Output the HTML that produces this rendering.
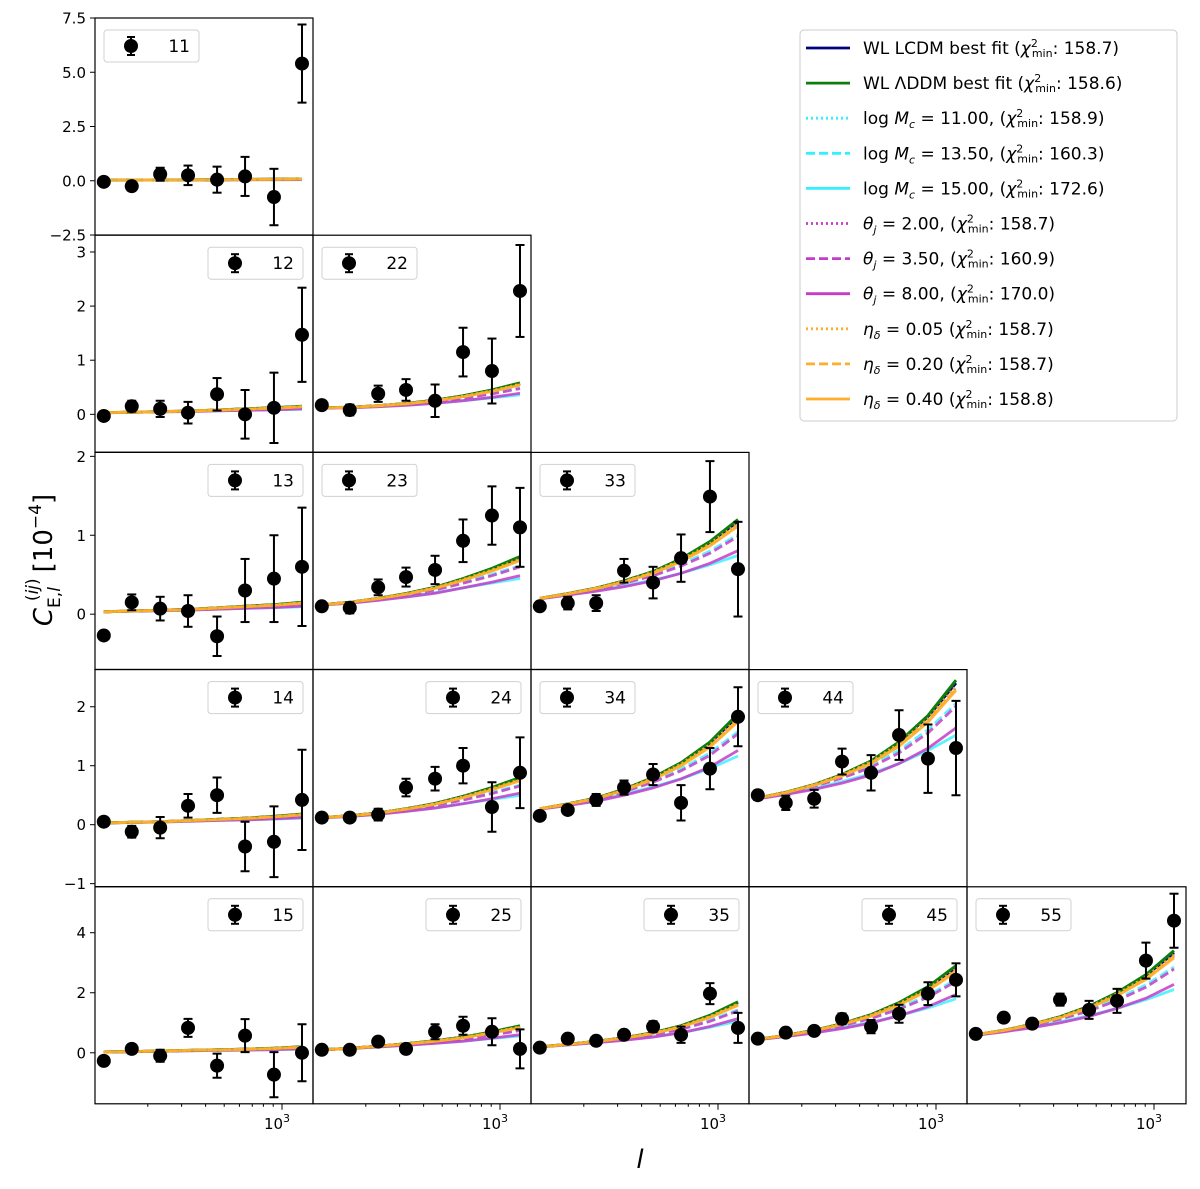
<!DOCTYPE html>
<html><head><meta charset="utf-8"><style>
html,body{margin:0;padding:0;background:#fff;}
svg{display:block;font-family:"DejaVu Sans","Liberation Sans",sans-serif;}
</style></head><body>
<svg id="chart" width="1200" height="1189" viewBox="0 0 1200 1189" xmlns="http://www.w3.org/2000/svg">
<rect width="1200" height="1189" fill="#fff"/>
<g id="plots"></g>
<text transform="translate(52,560) rotate(-90)" text-anchor="middle" font-size="26"><tspan font-style="italic">C</tspan><tspan font-size="17" dy="8">E,</tspan><tspan font-size="17" font-style="italic">l</tspan><tspan font-size="17" dy="-22" dx="-14">(</tspan><tspan font-size="17" font-style="italic">ij</tspan><tspan font-size="17">)</tspan><tspan dy="14" dx="6">[10</tspan><tspan font-size="17" dy="-11">−4</tspan><tspan dy="11">]</tspan></text>
<text x="640" y="1168" text-anchor="middle" font-size="26" font-style="italic">l</text>
<g>
<rect x="800" y="30" width="377" height="391" rx="4" fill="#fff" stroke="#ccc" stroke-width="1"/>
</g>
<g id="legend-items"></g>
</svg>
<script>
// ---- data ----
const ells = [118, 165, 232, 324, 459, 642, 908, 1271];
const panelIds = ["11","12","22","13","23","33","14","24","34","44","15","25","35","45","55"];
const obs11=[-0.05,-0.25,0.3,0.25,0.05,0.2,-0.75,5.4];
const err11=[0.1,0.1,0.3,0.45,0.6,0.9,1.3,1.8];
const mod11=[0.03,0.03,0.04,0.04,0.05,0.06,0.07,0.08];
const obs12=[-0.03,0.15,0.1,0.03,0.37,0.0,0.12,1.47];
const err12=[0.05,0.1,0.15,0.2,0.3,0.45,0.65,0.87];
const mod12=[0.03,0.04,0.05,0.06,0.08,0.1,0.12,0.15];
const obs22=[0.17,0.08,0.38,0.45,0.25,1.15,0.8,2.28];
const err22=[0.05,0.1,0.15,0.2,0.3,0.45,0.6,0.85];
const mod22=[0.12,0.13,0.16,0.2,0.26,0.34,0.45,0.58];
const obs13=[-0.27,0.15,0.07,0.04,-0.28,0.3,0.45,0.6];
const err13=[0.05,0.1,0.15,0.2,0.25,0.4,0.55,0.75];
const mod13=[0.03,0.04,0.05,0.06,0.08,0.1,0.12,0.15];
const obs23=[0.1,0.08,0.34,0.47,0.56,0.93,1.25,1.1];
const err23=[0.05,0.07,0.1,0.12,0.18,0.27,0.37,0.5];
const mod23=[0.12,0.15,0.2,0.26,0.34,0.45,0.58,0.73];
const obs33=[0.1,0.14,0.14,0.55,0.4,0.71,1.49,0.57];
const err33=[0.05,0.08,0.1,0.15,0.2,0.3,0.45,0.6];
const mod33=[0.2,0.26,0.33,0.42,0.54,0.7,0.92,1.2];
const obs14=[0.05,-0.12,-0.05,0.32,0.5,-0.37,-0.29,0.42];
const err14=[0.07,0.1,0.18,0.2,0.3,0.42,0.6,0.85];
const mod14=[0.03,0.04,0.05,0.07,0.09,0.11,0.14,0.18];
const obs24=[0.12,0.12,0.17,0.63,0.78,1.0,0.3,0.88];
const err24=[0.05,0.07,0.1,0.15,0.2,0.3,0.42,0.6];
const mod24=[0.12,0.15,0.2,0.27,0.36,0.48,0.63,0.8];
const obs34=[0.15,0.25,0.42,0.63,0.85,0.37,0.95,1.83];
const err34=[0.05,0.06,0.1,0.12,0.18,0.3,0.35,0.5];
const mod34=[0.27,0.35,0.45,0.6,0.8,1.05,1.4,1.88];
const obs44=[0.5,0.37,0.44,1.07,0.88,1.52,1.12,1.3];
const err44=[0.08,0.12,0.15,0.22,0.3,0.42,0.58,0.8];
const mod44=[0.45,0.55,0.68,0.85,1.08,1.4,1.85,2.45];
const obs15=[-0.27,0.13,-0.1,0.83,-0.43,0.57,-0.73,0.0];
const err15=[0.1,0.15,0.2,0.3,0.4,0.55,0.75,0.95];
const mod15=[0.03,0.04,0.06,0.08,0.1,0.12,0.15,0.2];
const obs25=[0.1,0.1,0.37,0.13,0.7,0.9,0.7,0.13];
const err25=[0.05,0.07,0.1,0.15,0.25,0.3,0.45,0.65];
const mod25=[0.1,0.15,0.22,0.3,0.4,0.52,0.7,0.9];
const obs35=[0.17,0.47,0.4,0.6,0.87,0.6,1.97,0.83];
const err35=[0.06,0.08,0.1,0.12,0.18,0.27,0.35,0.5];
const mod35=[0.2,0.28,0.38,0.5,0.67,0.9,1.25,1.7];
const obs45=[0.47,0.67,0.73,1.13,0.87,1.3,1.97,2.43];
const err45=[0.08,0.1,0.12,0.18,0.22,0.3,0.38,0.55];
const mod45=[0.45,0.58,0.75,0.97,1.27,1.67,2.2,2.9];
const obs55=[0.63,1.17,0.97,1.77,1.43,1.73,3.07,4.4];
const err55=[0.08,0.1,0.15,0.2,0.3,0.4,0.6,0.9];
const mod55=[0.6,0.75,0.95,1.2,1.55,2.0,2.6,3.4];
const obsData=[obs11,obs12,obs22,obs13,obs23,obs33,obs14,obs24,obs34,obs44,obs15,obs25,obs35,obs45,obs55];
const errData=[err11,err12,err22,err13,err23,err33,err14,err24,err34,err44,err15,err25,err35,err45,err55];
const modData=[mod11,mod12,mod22,mod13,mod23,mod33,mod14,mod24,mod34,mod44,mod15,mod25,mod35,mod45,mod55];
// model ratios relative to the ΛDDM best fit
const ratioLcdm=[1,1,1,1,1,1,0.99,0.98];
const ratioMc11=[1,1,1,0.99,0.99,0.98,0.97,0.96];
const ratioMc135=[1,0.99,0.98,0.96,0.93,0.9,0.87,0.84];
const ratioMc15=[0.98,0.95,0.91,0.86,0.8,0.74,0.68,0.62];
const ratioTh2=[1,1,0.99,0.99,0.98,0.97,0.96,0.95];
const ratioTh35=[0.99,0.98,0.96,0.93,0.9,0.87,0.84,0.82];
const ratioTh8=[0.97,0.93,0.88,0.83,0.78,0.74,0.7,0.67];
const ratioEta005=[1,1,1,0.99,0.99,0.98,0.97,0.96];
const ratioEta02=[1,0.99,0.99,0.98,0.97,0.96,0.95,0.94];
const ratioEta04=[1,0.99,0.98,0.97,0.96,0.95,0.94,0.93];
const rowYMin=[-2.5,-0.70,-0.70,-1.05,-1.7];
const rowYMax=[7.5,3.31,2.05,2.63,5.53];
const rowTicks=[[-2.5,0,2.5,5,7.5],[0,1,2,3],[0,1,2],[-1,0,1,2],[0,2,4]];
const rowTickLabels=[["−2.5","0.0","2.5","5.0","7.5"],["0","1","2","3"],["0","1","2"],["−1","0","1","2"],["0","2","4"]];
const legendLeft=[true,false,true,false,true,true,false,false,true,true,false,false,false,false,true];

// ---- drawing ----
const NS="http://www.w3.org/2000/svg";
const plots=document.getElementById('plots');
function mk(tag,attrs,parent){const e=document.createElementNS(NS,tag);for(const k in attrs)e.setAttribute(k,attrs[k]);(parent||plots).appendChild(e);return e;}
const PPD=192, W=218, H=217;
function colLeft(c){return 95+c*218;}
function rowTop(r){return 18+r*217.2;}
function xScale(c,ell){return colLeft(c)+187+(Math.log10(ell)-3)*PPD;}
function yScale(r,v){return rowTop(r)+H-(v-rowYMin[r])/(rowYMax[r]-rowYMin[r])*H;}

const lineStyles=[
 {ratio:ratioMc11,color:"#33f0ff",dash:"2,3",w:2.8,op:0.8},
 {ratio:ratioMc135,color:"#33f0ff",dash:"9,4",w:2.8,op:0.8},
 {ratio:ratioMc15,color:"#33f0ff",dash:"",w:2.8,op:0.8},
 {ratio:ratioTh2,color:"#c43cc8",dash:"2,3",w:2.8,op:0.85},
 {ratio:ratioTh35,color:"#c43cc8",dash:"9,4",w:2.8,op:0.85},
 {ratio:ratioTh8,color:"#c43cc8",dash:"",w:2.8,op:0.85},
 {ratio:ratioLcdm,color:"#000080",dash:"",w:2.8,op:1},
 {ratio:null,color:"#0a7d0a",dash:"",w:3,op:1},
 {ratio:ratioEta005,color:"#ffae2a",dash:"2,3",w:2.8,op:0.9},
 {ratio:ratioEta02,color:"#ffae2a",dash:"9,4",w:2.8,op:0.9},
 {ratio:ratioEta04,color:"#ffae2a",dash:"",w:2.8,op:0.9}
];

let idx=0;
for(let r=0;r<5;r++){
 for(let c=0;c<=r;c++){
  const id=panelIds[idx], obs=obsData[idx], err=errData[idx], mod=modData[idx];
  const L=colLeft(c), T=rowTop(r);
  const g=mk('g',{});
  
  
  const clipId='clip'+id;
  const cp=mk('clipPath',{id:clipId},g);
  mk('rect',{x:L,y:T,width:W+(c==4?1:0),height:H},cp);
  const lg=mk('g',{'clip-path':'url(#'+clipId+')'},g);
  lineStyles.forEach(s=>{
    const pts=ells.map((e,i)=>xScale(c,e).toFixed(1)+','+yScale(r,mod[i]*(s.ratio?s.ratio[i]:1)).toFixed(1)).join(' ');
    const pl=mk('polyline',{points:pts,fill:'none',stroke:s.color,'stroke-width':s.w,'stroke-dasharray':s.dash,opacity:s.op},lg);
    
    
  });
  ells.forEach((e,i)=>{
    const x=xScale(c,e), y=yScale(r,obs[i]), y1=yScale(r,obs[i]-err[i]), y2=yScale(r,obs[i]+err[i]);
    mk('line',{x1:x,x2:x,y1:y1,y2:y2,stroke:'#000','stroke-width':2},lg);
    mk('line',{x1:x-4.5,x2:x+4.5,y1:y1,y2:y1,stroke:'#000','stroke-width':2},lg);
    mk('line',{x1:x-4.5,x2:x+4.5,y1:y2,y2:y2,stroke:'#000','stroke-width':2},lg);
    const pt=mk('circle',{cx:x,cy:y,r:7,fill:'#000'},lg);
    
    
  });
  mk('rect',{x:L,y:T,width:W+(c==4?1:0),height:H,fill:'none',stroke:'#000','stroke-width':1.2},g);
  // panel legend
  const bx=legendLeft[idx]?L+9:L+113, by=T+12;
  const lgb=mk('g',{},g);
  
  
  mk('rect',{x:bx,y:by,width:95,height:32,rx:3,fill:'#fff',stroke:'#ccc','stroke-width':1,opacity:0.9},lgb);
  const mx=bx+27, my=by+16;
  mk('line',{x1:mx,x2:mx,y1:my-9,y2:my+9,stroke:'#000','stroke-width':2},lgb);
  mk('line',{x1:mx-4,x2:mx+4,y1:my-9,y2:my-9,stroke:'#000','stroke-width':2},lgb);
  mk('line',{x1:mx-4,x2:mx+4,y1:my+9,y2:my+9,stroke:'#000','stroke-width':2},lgb);
  mk('circle',{cx:mx,cy:my,r:7,fill:'#000'},lgb);
  const t=mk('text',{x:bx+86,y:my+6,'text-anchor':'end','font-size':17},lgb); t.textContent=id;
  // y ticks
  if(c==0){
    rowTicks[r].forEach((v,k)=>{
      const y=yScale(r,v);
      if(y<T-1||y>T+H+1)return;
      mk('line',{x1:L-5,x2:L,y1:y,y2:y,stroke:'#000','stroke-width':1},g);
      const tt=mk('text',{x:L-9,y:y+5.5,'text-anchor':'end','font-size':15},g);
      
      
      tt.textContent=rowTickLabels[r][k];
    });
  }
  // x ticks
  if(r==4){
    [200,300,400,500,600,700,800,900].forEach(v=>{const x=xScale(c,v);mk('line',{x1:x,x2:x,y1:T+H,y2:T+H+3,stroke:'#000','stroke-width':1},g);});
    const x=xScale(c,1000);
    mk('line',{x1:x,x2:x,y1:T+H,y2:T+H+6,stroke:'#000','stroke-width':1},g);
    const tt=mk('text',{x:x-5,y:T+H+25,'text-anchor':'middle','font-size':15},g);
    
    
    tt.innerHTML='10<tspan font-size="11" dy="-7">3</tspan>';
  }
  idx++;
 }
}

// ---- main legend ----
const legEntries=[
 {color:"#000080",dash:"",html:'WL LCDM best fit (<tspan font-style="italic">χ</tspan><tspan font-size="11" dy="-7">2</tspan><tspan font-size="11" dy="10" dx="-6">min</tspan><tspan dy="-3">: 158.7)</tspan>'},
 {color:"#0a7d0a",dash:"",html:'WL ΛDDM best fit  (<tspan font-style="italic">χ</tspan><tspan font-size="11" dy="-7">2</tspan><tspan font-size="11" dy="10" dx="-6">min</tspan><tspan dy="-3">: 158.6)</tspan>'},
 {color:"#33f0ff",dash:"2,3",html:'log <tspan font-style="italic">M</tspan><tspan font-size="11" dy="4" font-style="italic">c</tspan><tspan dy="-4"> = 11.00, (</tspan><tspan font-style="italic">χ</tspan><tspan font-size="11" dy="-7">2</tspan><tspan font-size="11" dy="10" dx="-6">min</tspan><tspan dy="-3">: 158.9)</tspan>'},
 {color:"#33f0ff",dash:"9,4",html:'log <tspan font-style="italic">M</tspan><tspan font-size="11" dy="4" font-style="italic">c</tspan><tspan dy="-4"> = 13.50, (</tspan><tspan font-style="italic">χ</tspan><tspan font-size="11" dy="-7">2</tspan><tspan font-size="11" dy="10" dx="-6">min</tspan><tspan dy="-3">: 160.3)</tspan>'},
 {color:"#33f0ff",dash:"",html:'log <tspan font-style="italic">M</tspan><tspan font-size="11" dy="4" font-style="italic">c</tspan><tspan dy="-4"> = 15.00, (</tspan><tspan font-style="italic">χ</tspan><tspan font-size="11" dy="-7">2</tspan><tspan font-size="11" dy="10" dx="-6">min</tspan><tspan dy="-3">: 172.6)</tspan>'},
 {color:"#c43cc8",dash:"2,3",html:'<tspan font-style="italic">θ</tspan><tspan font-size="11" dy="4" font-style="italic">j</tspan><tspan dy="-4"> = 2.00, (</tspan><tspan font-style="italic">χ</tspan><tspan font-size="11" dy="-7">2</tspan><tspan font-size="11" dy="10" dx="-6">min</tspan><tspan dy="-3">: 158.7)</tspan>'},
 {color:"#c43cc8",dash:"9,4",html:'<tspan font-style="italic">θ</tspan><tspan font-size="11" dy="4" font-style="italic">j</tspan><tspan dy="-4"> = 3.50, (</tspan><tspan font-style="italic">χ</tspan><tspan font-size="11" dy="-7">2</tspan><tspan font-size="11" dy="10" dx="-6">min</tspan><tspan dy="-3">: 160.9)</tspan>'},
 {color:"#c43cc8",dash:"",html:'<tspan font-style="italic">θ</tspan><tspan font-size="11" dy="4" font-style="italic">j</tspan><tspan dy="-4"> = 8.00, (</tspan><tspan font-style="italic">χ</tspan><tspan font-size="11" dy="-7">2</tspan><tspan font-size="11" dy="10" dx="-6">min</tspan><tspan dy="-3">: 170.0)</tspan>'},
 {color:"#ffae2a",dash:"2,3",html:'<tspan font-style="italic">η</tspan><tspan font-size="11" dy="4" font-style="italic">δ</tspan><tspan dy="-4"> = 0.05  (</tspan><tspan font-style="italic">χ</tspan><tspan font-size="11" dy="-7">2</tspan><tspan font-size="11" dy="10" dx="-6">min</tspan><tspan dy="-3">: 158.7)</tspan>'},
 {color:"#ffae2a",dash:"9,4",html:'<tspan font-style="italic">η</tspan><tspan font-size="11" dy="4" font-style="italic">δ</tspan><tspan dy="-4"> = 0.20  (</tspan><tspan font-style="italic">χ</tspan><tspan font-size="11" dy="-7">2</tspan><tspan font-size="11" dy="10" dx="-6">min</tspan><tspan dy="-3">: 158.7)</tspan>'},
 {color:"#ffae2a",dash:"",html:'<tspan font-style="italic">η</tspan><tspan font-size="11" dy="4" font-style="italic">δ</tspan><tspan dy="-4"> = 0.40  (</tspan><tspan font-style="italic">χ</tspan><tspan font-size="11" dy="-7">2</tspan><tspan font-size="11" dy="10" dx="-6">min</tspan><tspan dy="-3">: 158.8)</tspan>'}
];
const legG=document.getElementById('legend-items');
legEntries.forEach((e,i)=>{
  const y=48+i*35.1;
  const g=document.createElementNS(NS,'g');
  
  
  legG.appendChild(g);
  mk('line',{x1:806,x2:850,y1:y,y2:y,stroke:e.color,'stroke-width':2.8,'stroke-dasharray':e.dash},g);
  const t=mk('text',{x:863,y:y+6,'font-size':17,'xml:space':'preserve'},g);
  t.innerHTML=e.html;
});
</script>
</body></html>
